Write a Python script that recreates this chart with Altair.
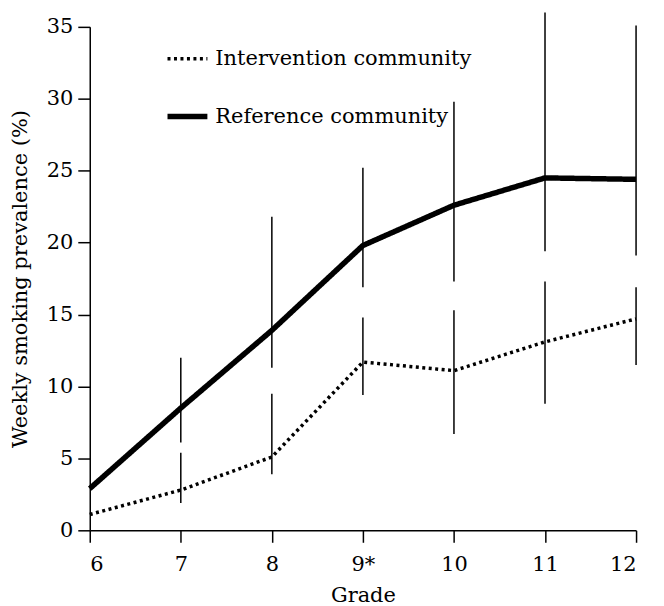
import altair as alt
import pandas as pd

grades = [6, 7, 8, 9, 10, 11, 12]
intervention = [1.1, 2.8, 5.1, 11.7, 11.1, 13.1, 14.7]
reference = [2.9, 8.5, 13.9, 19.8, 22.6, 24.5, 24.4]

bar_grades = [7, 8, 9, 10, 11, 12]
int_low = [1.9, 3.9, 9.4, 6.7, 8.8, 11.5]
int_high = [5.4, 9.5, 14.8, 15.3, 17.3, 16.9]
ref_low = [6.1, 11.3, 16.9, 17.3, 19.4, 19.1]
ref_high = [12.0, 21.8, 25.2, 29.8, 36.0, 35.1]

series_names = ["Intervention community", "Reference community"]

lines_df = pd.DataFrame(
    {"Grade": grades * 2,
     "Prevalence": intervention + reference,
     "Community": [series_names[0]] * len(grades) + [series_names[1]] * len(grades)}
)
bars_df = pd.DataFrame(
    {"Grade": bar_grades * 2,
     "low": int_low + ref_low,
     "high": int_high + ref_high}
)

FONT = "DejaVu Serif"
FS = 21

x_scale = alt.Scale(domain=[6, 12], nice=False, zero=False)
x = alt.X("Grade:Q", scale=x_scale,
          axis=alt.Axis(values=grades, title="Grade",
                        labelExpr="datum.value == 9 ? '9*' : datum.value",
                        titlePadding=10, labelPadding=11))
y_axis = alt.Axis(values=[0, 5, 10, 15, 20, 25, 30, 35],
                  title="Weekly smoking prevalence (%)",
                  titlePadding=16, labelPadding=5)
y_scale = alt.Scale(domain=[0, 35], nice=False)

leg = alt.Legend(title=None, orient="none", legendX=75, legendY=10,
                 symbolType="stroke", symbolSize=1600,
                 symbolStrokeColor="black",
                 labelFont=FONT, labelFontSize=FS, labelColor="black",
                 labelOffset=5, rowPadding=25, labelLimit=500)

lines = alt.Chart(lines_df).mark_line(color="black", strokeCap="butt", clip=False).encode(
    x=x,
    y=alt.Y("Prevalence:Q", scale=y_scale, axis=y_axis),
    strokeDash=alt.StrokeDash(
        "Community:N",
        scale=alt.Scale(domain=series_names, range=[[3, 3.5], [1, 0]]),
        legend=leg),
    strokeWidth=alt.StrokeWidth(
        "Community:N",
        scale=alt.Scale(domain=series_names, range=[3.5, 5.5]),
        legend=leg),
)

bars = alt.Chart(bars_df).mark_rule(color="black", strokeWidth=1.5, clip=False).encode(
    x=alt.X("Grade:Q", scale=x_scale),
    y=alt.Y("low:Q", scale=y_scale),
    y2="high:Q",
)

chart = alt.layer(bars, lines).properties(
    width=548, height=505,
    autosize=alt.AutoSizeParams(type="none"),
    padding={"left": 82, "top": 18, "right": 20, "bottom": 75},
).configure_view(stroke=None).configure_axis(
    grid=False,
    domainColor="black", domainWidth=1.5,
    tickColor="black", tickWidth=1.5, tickSize=12,
    labelFont=FONT, labelFontSize=FS, labelColor="black",
    titleFont=FONT, titleFontSize=FS, titleColor="black", titleFontWeight="normal",
)

chart.save("out.html", embed_options={"renderer": "svg", "actions": False})
